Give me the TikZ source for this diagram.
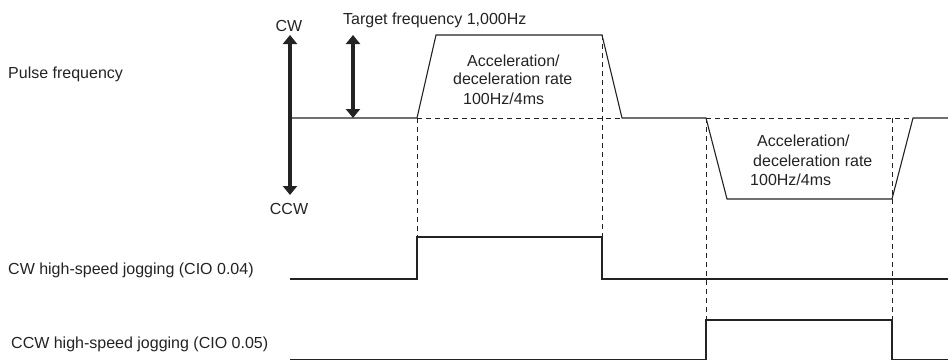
\documentclass[tikz,border=0pt]{standalone}
\usepackage{fontspec}
\setmainfont{Liberation Sans}
\usetikzlibrary{positioning,arrows.meta,calc}
\definecolor{ink}{RGB}{35,35,35}

\begin{document}
\begin{tikzpicture}[x=1pt,y=-1pt,
    txt/.style={inner sep=0pt,text height=11pt,text depth=0pt,text=ink,
                font=\fontsize{16}{19}\selectfont},
    wave/.style={draw=ink,line width=1.1pt,line join=miter},
    guide/.style={draw=ink,line width=1pt,dash pattern=on 5pt off 4pt},
    dir/.style={draw=ink,line width=3.2pt,
                {Triangle[width=14pt,length=9pt]}-{Triangle[width=14pt,length=9pt]}}]
    \useasboundingbox (0,0) rectangle (948,362);
    % labels on the left
    \node[txt,anchor=west] (pf) at (8,72.5) {Pulse frequency};
    \node[txt,anchor=west] (cwjog) at (8,269) {CW high-speed jogging (CIO 0.04)};
    \node[txt,anchor=west] (ccwjog) at (11,342.5) {CCW high-speed jogging (CIO 0.05)};
    % direction arrows
    \node[txt] (cw) at (289,26) {CW};
    \node[txt] (ccw) at (289,209) {CCW};
    \coordinate (cwtip) at (290,35);
    \coordinate (ccwtip) at (290,195);
    \draw[dir] (ccwtip) -- (cwtip);
    \node[txt,anchor=west] (target) at (343,19) {Target frequency 1,000Hz};
    \coordinate (tgtop) at (353,35);
    \coordinate (tgbot) at (353,118);
    \draw[dir] (tgbot) -- (tgtop);
    % pulse frequency
    \draw[wave] (290,118) -- (417,118) -- (436,35) -- (602,35) -- (622,118)
        -- (706,118) -- (727,199) -- (892,199) -- (913,118) -- (948,118);
    \draw[guide] (417,118) -- (622,118);
    \draw[guide] (706,118) -- (913,118);
    \node[txt,anchor=west] (acc1) at (467,61) {Acceleration/};
    \node[txt,anchor=west] (dec1) at (453,79) {deceleration rate};
    \node[txt,anchor=west] (rate1) at (463,99) {100Hz/4ms};
    \node[txt,anchor=west] (acc2) at (757,141) {Acceleration/};
    \node[txt,anchor=west] (dec2) at (753,161) {deceleration rate};
    \node[txt,anchor=west] (rate2) at (750,180) {100Hz/4ms};
    % jogging signals
    \draw[wave] (290,279) -- (417,279) -- (417,237) -- (602,237) -- (602,279) -- (948,279);
    \draw[wave] (290,359.5) -- (706,359.5) -- (706,320) -- (892,320) -- (892,359.5) -- (948,359.5);
    % timing guides
    \draw[guide] (417,118) -- (417,237);
    \draw[guide] (602,35) -- (602,237);
    \draw[guide] (706,118) -- (706,320);
    \draw[guide] (892,118) -- (892,320);
\end{tikzpicture}
\end{document}
